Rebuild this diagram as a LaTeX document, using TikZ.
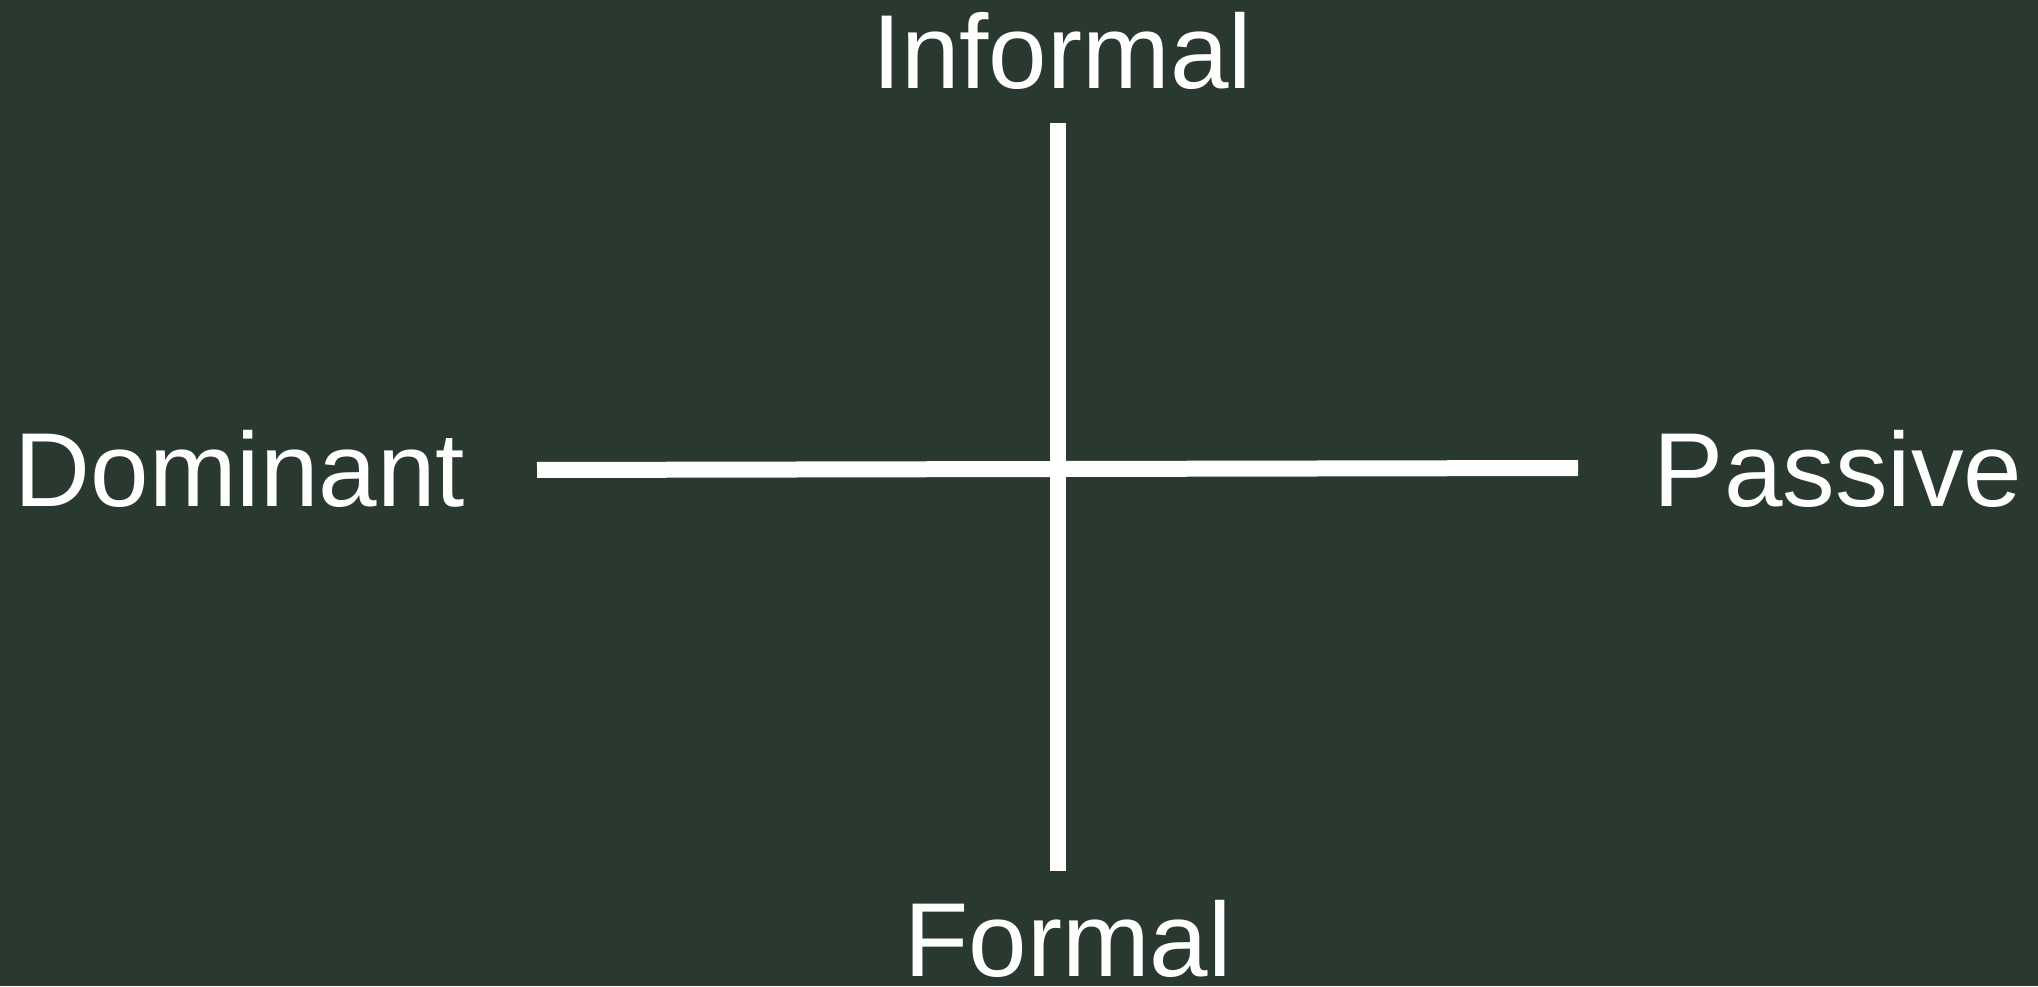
\documentclass[tikz,border=0pt]{standalone}
\usepackage{fontspec}
\setmainfont{Liberation Sans}
\usepackage{xcolor}
\usepackage{tikz}
\usetikzlibrary{positioning}
\definecolor{BoardGreen}{RGB}{42, 57, 48}
\definecolor{AxisWhite}{RGB}{255, 255, 255}

\begin{document}
\begin{tikzpicture}[x=0.5pt,y=0.5pt,
    axislabel/.style={text=AxisWhite, inner sep=0pt, anchor=base,
      font=\fontsize{52.6}{60}\selectfont},
    axisline/.style={draw=AxisWhite, line width=8pt}]
  \fill[BoardGreen] (0,0) rectangle (2038,986);
  \path[use as bounding box] (0,0) rectangle (2038,986);

  % end labels of both axes
  \node[axislabel] (informal) at (1062,897) {Informal};
  \node[axislabel] (formal) at (1068,10) {Formal};
  \node[axislabel] (dominant) at (240,479) {Dominant};
  \node[axislabel] (passive) at (1838,479) {Passive};

  % axis ends
  \coordinate (vtop) at (1058,863);
  \coordinate (vbot) at (1058,115);
  \coordinate (hleft) at (537,516);
  \coordinate (hright) at (1578,518);

  \draw[axisline] (vtop) -- (vbot);
  \draw[axisline] (hleft) -- (hright);
\end{tikzpicture}
\end{document}
